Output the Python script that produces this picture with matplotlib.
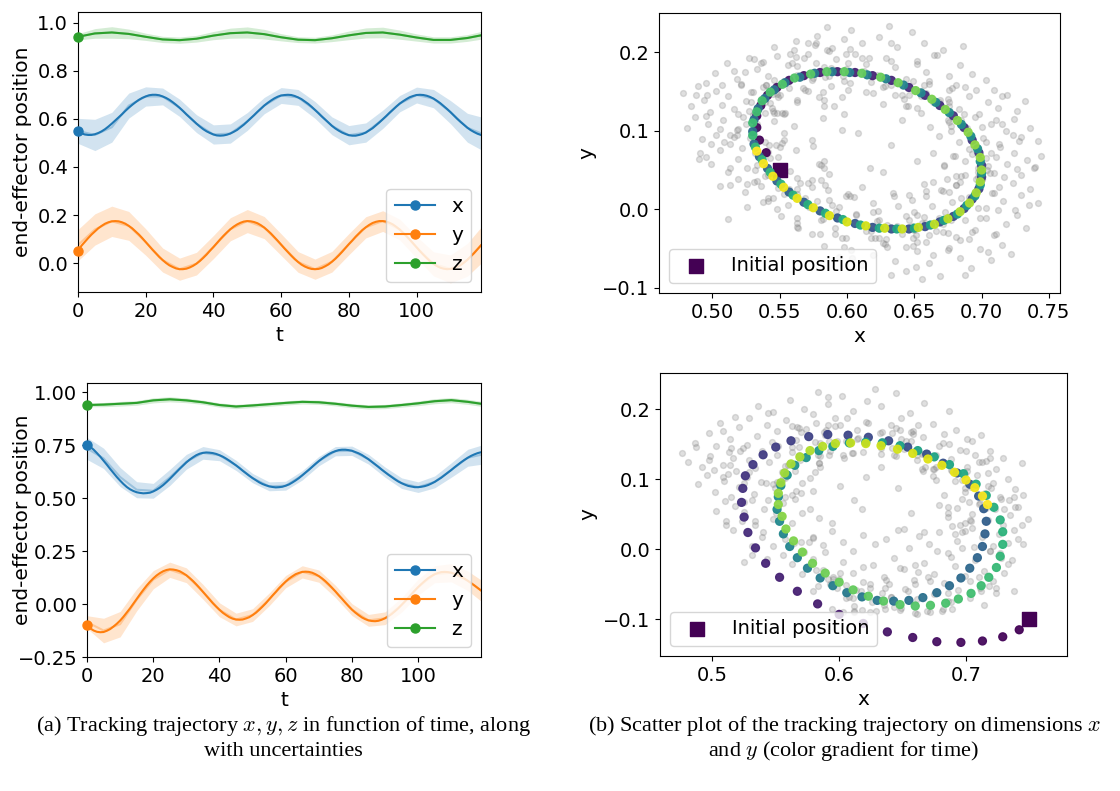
import matplotlib.pyplot as plt
import numpy as np
from matplotlib.lines import Line2D

plt.rcParams['font.family'] = 'DejaVu Sans'
plt.rcParams['mathtext.fontset'] = 'cm'
plt.rcParams['font.size'] = 14

# tracked trajectory, one value per time step (t = 0..119)
x_top = [0.550, 0.540, 0.535, 0.533, 0.533, 0.536, 0.541, 0.548, 0.557, 0.568,
         0.580, 0.593, 0.606, 0.619, 0.633, 0.646, 0.658, 0.669, 0.679, 0.687,
         0.693, 0.698, 0.700, 0.700, 0.698, 0.693, 0.687, 0.679, 0.669, 0.658,
         0.646, 0.633, 0.619, 0.606, 0.593, 0.580, 0.568, 0.557, 0.548, 0.541,
         0.535, 0.531, 0.530, 0.531, 0.534, 0.539, 0.546, 0.554, 0.565, 0.576,
         0.589, 0.602, 0.615, 0.629, 0.642, 0.655, 0.666, 0.676, 0.685, 0.692,
         0.697, 0.699, 0.700, 0.699, 0.695, 0.689, 0.682, 0.672, 0.662, 0.650,
         0.637, 0.624, 0.610, 0.597, 0.584, 0.571, 0.560, 0.551, 0.543, 0.537,
         0.532, 0.530, 0.530, 0.533, 0.537, 0.543, 0.552, 0.561, 0.573, 0.585,
         0.598, 0.611, 0.625, 0.638, 0.651, 0.663, 0.673, 0.682, 0.690, 0.695,
         0.699, 0.700, 0.699, 0.696, 0.691, 0.684, 0.675, 0.665, 0.653, 0.641,
         0.628, 0.614, 0.600, 0.587, 0.575, 0.563, 0.553, 0.545, 0.538, 0.533]
y_top = [0.050, 0.072, 0.088, 0.104, 0.119, 0.132, 0.145, 0.155, 0.164, 0.170,
         0.174, 0.175, 0.174, 0.170, 0.164, 0.155, 0.145, 0.132, 0.119, 0.104,
         0.088, 0.072, 0.056, 0.041, 0.026, 0.013, 0.001, -0.009, -0.016, -0.022,
         -0.025, -0.025, -0.023, -0.018, -0.011, -0.002, 0.009, 0.022, 0.036, 0.052,
         0.067, 0.083, 0.099, 0.114, 0.128, 0.141, 0.152, 0.161, 0.168, 0.173,
         0.175, 0.174, 0.171, 0.166, 0.158, 0.148, 0.136, 0.123, 0.108, 0.093,
         0.077, 0.061, 0.046, 0.031, 0.017, 0.005, -0.006, -0.014, -0.020, -0.024,
         -0.025, -0.024, -0.020, -0.013, -0.005, 0.006, 0.018, 0.032, 0.047, 0.063,
         0.079, 0.094, 0.110, 0.124, 0.138, 0.149, 0.159, 0.167, 0.172, 0.175,
         0.175, 0.173, 0.168, 0.161, 0.151, 0.140, 0.127, 0.113, 0.098, 0.082,
         0.066, 0.050, 0.035, 0.021, 0.008, -0.003, -0.012, -0.019, -0.023, -0.025,
         -0.024, -0.021, -0.016, -0.008, 0.002, 0.014, 0.028, 0.042, 0.058, 0.074]
x_bot = [0.750, 0.742, 0.729, 0.713, 0.696, 0.677, 0.658, 0.638, 0.619, 0.600,
         0.583, 0.567, 0.553, 0.542, 0.534, 0.528, 0.525, 0.523, 0.524, 0.526,
         0.532, 0.540, 0.550, 0.562, 0.576, 0.591, 0.607, 0.623, 0.639, 0.654,
         0.669, 0.682, 0.693, 0.703, 0.710, 0.714, 0.716, 0.715, 0.713, 0.709,
         0.703, 0.696, 0.687, 0.677, 0.666, 0.655, 0.643, 0.630, 0.618, 0.606,
         0.595, 0.585, 0.575, 0.567, 0.561, 0.556, 0.553, 0.551, 0.552, 0.554,
         0.559, 0.565, 0.574, 0.584, 0.595, 0.608, 0.621, 0.634, 0.648, 0.662,
         0.675, 0.687, 0.698, 0.708, 0.716, 0.722, 0.727, 0.729, 0.729, 0.727,
         0.724, 0.718, 0.712, 0.704, 0.694, 0.684, 0.672, 0.660, 0.648, 0.635,
         0.623, 0.611, 0.600, 0.589, 0.579, 0.571, 0.564, 0.558, 0.555, 0.552,
         0.552, 0.554, 0.557, 0.562, 0.569, 0.577, 0.587, 0.597, 0.609, 0.621,
         0.633, 0.646, 0.658, 0.670, 0.681, 0.691, 0.700, 0.707, 0.713, 0.717]
y_bot = [-0.100, -0.115, -0.125, -0.131, -0.133, -0.132, -0.126, -0.118, -0.106, -0.093,
         -0.078, -0.060, -0.040, -0.020, 0.002, 0.024, 0.046, 0.067, 0.087, 0.105,
         0.121, 0.135, 0.146, 0.155, 0.161, 0.164, 0.163, 0.160, 0.155, 0.146,
         0.136, 0.123, 0.109, 0.093, 0.076, 0.058, 0.040, 0.022, 0.004, -0.012,
         -0.027, -0.041, -0.052, -0.062, -0.069, -0.073, -0.074, -0.073, -0.068, -0.062,
         -0.052, -0.041, -0.027, -0.012, 0.004, 0.022, 0.040, 0.057, 0.075, 0.091,
         0.106, 0.120, 0.131, 0.141, 0.147, 0.152, 0.153, 0.152, 0.148, 0.141,
         0.132, 0.121, 0.108, 0.093, 0.077, 0.060, 0.042, 0.025, 0.007, -0.010,
         -0.026, -0.040, -0.052, -0.063, -0.071, -0.077, -0.080, -0.081, -0.079, -0.074,
         -0.067, -0.058, -0.047, -0.034, -0.020, -0.004, 0.012, 0.029, 0.047, 0.064,
         0.080, 0.095, 0.109, 0.122, 0.132, 0.141, 0.147, 0.151, 0.152, 0.151,
         0.148, 0.143, 0.137, 0.129, 0.120, 0.110, 0.099, 0.088, 0.076, 0.064]

# z and the uncertainty bands, read every 5 steps
t_coarse = [0, 5, 10, 15, 20, 25, 30, 35, 40, 45, 50, 55, 60, 65, 70, 75, 80, 85, 90, 95, 100, 105, 110, 115, 119]
z_top = [0.941, 0.955, 0.959, 0.953, 0.941, 0.930, 0.927, 0.933, 0.946, 0.956, 0.959, 0.952, 0.939,
         0.929, 0.927, 0.935, 0.947, 0.957, 0.959, 0.950, 0.938, 0.928, 0.928, 0.936, 0.947]
z_bot = [0.940, 0.942, 0.946, 0.950, 0.962, 0.967, 0.962, 0.953, 0.940, 0.933, 0.938, 0.944, 0.950,
         0.955, 0.953, 0.946, 0.937, 0.931, 0.933, 0.940, 0.948, 0.958, 0.963, 0.955, 0.946]

x_mean_top = [0.550, 0.533, 0.565, 0.655, 0.693, 0.693, 0.646, 0.580, 0.535, 0.539, 0.589, 0.655, 0.697,
              0.689, 0.637, 0.571, 0.532, 0.543, 0.598, 0.663, 0.699, 0.684, 0.628, 0.563, 0.540]
x_half_top = [0.052, 0.065, 0.062, 0.052, 0.040, 0.035, 0.036, 0.037, 0.040, 0.040, 0.037, 0.034, 0.033,
              0.033, 0.035, 0.037, 0.040, 0.040, 0.038, 0.034, 0.033, 0.038, 0.048, 0.060, 0.068]
y_mean_top = [0.075, 0.140, 0.174, 0.155, 0.088, 0.013, -0.025, -0.002, 0.067, 0.141, 0.175, 0.148, 0.077,
              0.005, -0.025, 0.006, 0.079, 0.149, 0.175, 0.140, 0.066, -0.003, -0.024, 0.014, 0.074]
y_half_top = [0.065, 0.065, 0.063, 0.060, 0.055, 0.050, 0.046, 0.047, 0.048, 0.048, 0.048, 0.046, 0.045,
              0.043, 0.042, 0.043, 0.044, 0.044, 0.043, 0.043, 0.045, 0.050, 0.058, 0.068, 0.075]
z_half_top = [0.013, 0.020, 0.024, 0.020, 0.015, 0.013, 0.013, 0.014, 0.017, 0.021, 0.023, 0.020, 0.015,
              0.012, 0.012, 0.014, 0.018, 0.021, 0.022, 0.019, 0.015, 0.013, 0.013, 0.014, 0.016]

x_mean_bot = [0.735, 0.688, 0.600, 0.540, 0.535, 0.598, 0.672, 0.714, 0.703, 0.655, 0.595, 0.556, 0.559,
              0.608, 0.675, 0.722, 0.724, 0.684, 0.623, 0.571, 0.552, 0.577, 0.633, 0.691, 0.705]
x_half_bot = [0.052, 0.048, 0.045, 0.038, 0.035, 0.038, 0.035, 0.030, 0.026, 0.024, 0.022, 0.021, 0.021,
              0.022, 0.022, 0.022, 0.022, 0.023, 0.024, 0.025, 0.025, 0.028, 0.034, 0.040, 0.045]
y_mean_bot = [-0.085, -0.125, -0.095, 0.020, 0.115, 0.162, 0.136, 0.058, -0.027, -0.073, -0.052, 0.022, 0.106,
              0.152, 0.132, 0.060, -0.026, -0.077, -0.067, -0.004, 0.080, 0.141, 0.148, 0.110, 0.064]
y_half_bot = [0.030, 0.058, 0.060, 0.052, 0.043, 0.036, 0.035, 0.035, 0.033, 0.030, 0.030, 0.030, 0.029,
              0.029, 0.029, 0.029, 0.028, 0.028, 0.030, 0.034, 0.038, 0.040, 0.043, 0.046, 0.050]
z_half_bot = [0.008, 0.010, 0.011, 0.011, 0.012, 0.012, 0.011, 0.010, 0.010, 0.010, 0.010, 0.010, 0.010,
              0.010, 0.010, 0.010, 0.010, 0.010, 0.010, 0.010, 0.011, 0.012, 0.012, 0.012, 0.012]

# gray sampled positions behind the trajectory (x, y)
cloud_top = [
    (0.562, 0.214), (0.578, 0.221), (0.589, 0.205), (0.603, 0.228), (0.611, 0.212), (0.624, 0.219),
    (0.637, 0.206), (0.648, 0.225), (0.657, 0.211), (0.671, 0.203), (0.585, 0.232), (0.631, 0.233),
    (0.546, 0.207), (0.686, 0.208), (0.598, 0.216),
    (0.502, 0.173), (0.511, 0.186), (0.518, 0.166), (0.527, 0.192), (0.533, 0.178), (0.541, 0.169),
    (0.548, 0.195), (0.556, 0.183), (0.563, 0.171), (0.571, 0.197), (0.577, 0.186), (0.584, 0.168),
    (0.592, 0.191), (0.599, 0.179), (0.606, 0.198), (0.614, 0.185), (0.622, 0.171), (0.629, 0.193),
    (0.636, 0.181), (0.644, 0.166), (0.652, 0.188), (0.659, 0.174), (0.667, 0.196), (0.676, 0.169),
    (0.684, 0.183), (0.693, 0.172), (0.703, 0.165), (0.524, 0.175), (0.553, 0.163), (0.587, 0.201),
    (0.618, 0.162), (0.661, 0.163), (0.538, 0.187), (0.495, 0.161),
    (0.478, 0.148), (0.484, 0.131), (0.489, 0.157), (0.494, 0.139), (0.498, 0.124), (0.503, 0.151),
    (0.507, 0.133), (0.512, 0.144), (0.516, 0.127), (0.521, 0.158), (0.525, 0.138), (0.529, 0.149),
    (0.534, 0.126), (0.538, 0.156), (0.543, 0.135), (0.548, 0.147), (0.552, 0.123), (0.557, 0.154),
    (0.563, 0.139), (0.571, 0.151), (0.579, 0.143), (0.588, 0.157), (0.601, 0.152), (0.614, 0.149),
    (0.627, 0.155), (0.641, 0.146), (0.655, 0.151), (0.668, 0.137), (0.676, 0.152), (0.683, 0.128),
    (0.691, 0.144), (0.698, 0.121), (0.705, 0.137), (0.712, 0.129), (0.719, 0.146), (0.726, 0.125),
    (0.732, 0.138), (0.507, 0.158), (0.519, 0.121), (0.496, 0.146), (0.544, 0.129), (0.688, 0.156),
    (0.709, 0.152),
    (0.481, 0.103), (0.487, 0.117), (0.492, 0.089), (0.497, 0.108), (0.503, 0.095), (0.508, 0.114),
    (0.513, 0.083), (0.518, 0.101), (0.523, 0.118), (0.528, 0.091), (0.533, 0.109), (0.539, 0.086),
    (0.546, 0.112), (0.553, 0.097), (0.561, 0.106), (0.574, 0.088), (0.596, 0.101), (0.641, 0.114),
    (0.668, 0.093), (0.676, 0.111), (0.683, 0.086), (0.689, 0.103), (0.695, 0.117), (0.701, 0.091),
    (0.707, 0.108), (0.713, 0.083), (0.718, 0.099), (0.724, 0.115), (0.729, 0.092), (0.736, 0.104),
    (0.742, 0.087), (0.506, 0.102), (0.516, 0.092), (0.711, 0.113), (0.499, 0.083),
    (0.491, 0.071), (0.499, 0.058), (0.506, 0.076), (0.512, 0.047), (0.519, 0.064), (0.526, 0.053),
    (0.532, 0.072), (0.541, 0.044), (0.549, 0.067), (0.558, 0.049), (0.583, 0.062), (0.627, 0.047),
    (0.664, 0.071), (0.672, 0.055), (0.679, 0.068), (0.685, 0.043), (0.691, 0.077), (0.697, 0.052),
    (0.703, 0.065), (0.709, 0.046), (0.714, 0.079), (0.719, 0.058), (0.724, 0.071), (0.729, 0.044),
    (0.734, 0.063), (0.739, 0.052), (0.744, 0.068), (0.717, 0.041), (0.707, 0.072), (0.688, 0.061),
    (0.513, 0.031), (0.524, 0.022), (0.533, 0.036), (0.541, 0.014), (0.549, 0.027), (0.556, 0.006),
    (0.563, 0.019), (0.571, 0.033), (0.578, 0.011), (0.586, 0.024), (0.594, 0.003), (0.602, 0.017),
    (0.611, 0.029), (0.619, 0.008), (0.634, 0.021), (0.648, 0.012), (0.657, 0.032), (0.663, 0.004),
    (0.671, 0.023), (0.678, 0.009), (0.684, 0.035), (0.691, 0.016), (0.697, 0.028), (0.703, 0.002),
    (0.709, 0.021), (0.716, 0.011), (0.723, 0.033), (0.729, 0.018), (0.736, 0.026), (0.742, 0.008),
    (0.696, 0.039), (0.674, 0.038), (0.581, 0.037),
    (0.551, -0.008), (0.563, -0.017), (0.574, -0.031), (0.582, -0.012), (0.591, -0.024), (0.599, -0.036),
    (0.607, -0.006), (0.614, -0.028), (0.622, -0.015), (0.629, -0.038), (0.637, -0.021), (0.644, -0.009),
    (0.651, -0.033), (0.658, -0.018), (0.666, -0.027), (0.673, -0.004), (0.681, -0.035), (0.688, -0.014),
    (0.695, -0.026), (0.703, -0.011), (0.711, -0.031), (0.718, -0.019), (0.726, -0.007), (0.733, -0.024),
    (0.619, -0.003), (0.641, -0.032), (0.668, -0.011), (0.691, -0.038),
    (0.583, -0.047), (0.594, -0.061), (0.603, -0.052), (0.611, -0.071), (0.619, -0.058), (0.628, -0.044),
    (0.636, -0.066), (0.644, -0.079), (0.652, -0.053), (0.661, -0.068), (0.669, -0.085), (0.676, -0.049),
    (0.684, -0.062), (0.692, -0.074), (0.699, -0.051), (0.707, -0.064), (0.715, -0.046), (0.722, -0.057),
    (0.656, -0.088), (0.633, -0.083), (0.688, -0.083),
    (0.608, 0.097), (0.633, 0.082), (0.652, 0.061), (0.617, 0.052), (0.598, 0.121), (0.655, 0.123),
    (0.587, 0.045),
    # denser part hugging the ring
    (0.526, 0.032), (0.552, 0.084), (0.529, 0.136), (0.575, 0.080), (0.545, 0.125), (0.530, 0.120),
    (0.553, 0.121), (0.590, 0.131), (0.563, 0.182), (0.574, 0.164), (0.616, 0.192), (0.611, 0.193),
    (0.558, 0.198), (0.577, 0.212), (0.657, 0.158), (0.676, 0.131), (0.646, 0.145), (0.675, 0.114),
    (0.685, 0.113), (0.681, 0.158), (0.723, 0.094), (0.688, 0.044), (0.664, 0.035), (0.680, 0.068),
    (0.699, -0.011), (0.681, 0.031), (0.661, -0.033), (0.675, -0.052), (0.676, -0.010), (0.646, -0.013),
    (0.627, -0.043), (0.649, -0.047), (0.630, -0.048), (0.563, -0.011), (0.574, 0.028), (0.538, 0.009),
    (0.563, 0.040), (0.506, 0.030), (0.541, 0.010), (0.553, 0.019), (0.531, 0.035), (0.548, 0.123),
    (0.495, 0.066), (0.540, 0.158), (0.545, 0.147), (0.516, 0.176), (0.602, 0.161), (0.583, 0.132),
    (0.576, 0.209), (0.583, 0.181), (0.602, 0.174), (0.633, 0.189), (0.659, 0.148), (0.636, 0.146),
    (0.661, 0.160), (0.678, 0.154), (0.652, 0.129), (0.715, 0.144), (0.662, 0.105), (0.697, 0.041),
    (0.706, 0.046), (0.705, 0.055), (0.713, 0.029), (0.677, -0.013), (0.670, 0.024), (0.624, -0.014),
    (0.650, -0.026), (0.656, -0.018), (0.607, -0.007), (0.624, -0.036), (0.604, -0.062), (0.621, -0.037),
    (0.548, 0.001), (0.571, 0.006), (0.596, -0.036), (0.569, 0.014), (0.513, 0.053), (0.579, 0.057),
    (0.550, 0.079), (0.518, 0.094), (0.488, 0.146), (0.539, 0.136), (0.525, 0.108), (0.549, 0.143),
    (0.546, 0.165), (0.561, 0.203), (0.585, 0.202), (0.549, 0.157), (0.550, 0.145), (0.575, 0.167),
    (0.601, 0.186), (0.644, 0.131), (0.669, 0.139), (0.633, 0.158), (0.649, 0.163), (0.664, 0.137),
    (0.672, 0.056), (0.677, 0.106), (0.681, 0.042), (0.700, 0.038), (0.699, 0.053), (0.726, 0.051),
    (0.697, 0.002), (0.684, -0.039), (0.705, -0.054), (0.671, -0.019), (0.671, -0.029), (0.599, 0.017),
    (0.598, -0.048), (0.572, 0.003), (0.618, -0.028), (0.581, -0.014), (0.581, 0.056), (0.557, 0.026),
    (0.583, 0.052), (0.539, 0.042), (0.562, 0.076), (0.533, 0.056),
    (0.532, 0.050), (0.522, 0.078), (0.553, 0.088), (0.539, 0.122), (0.527, 0.125), (0.536, 0.186),
    (0.583, 0.139), (0.530, 0.149), (0.569, 0.152), (0.562, 0.194), (0.568, 0.192), (0.587, 0.169),
    (0.588, 0.180), (0.613, 0.176), (0.633, 0.212), (0.652, 0.185), (0.628, 0.157), (0.645, 0.132),
    (0.675, 0.140), (0.693, 0.070), (0.740, 0.054), (0.694, 0.020), (0.712, -0.001), (0.704, 0.050),
    (0.693, -0.029), (0.709, -0.033), (0.657, -0.010), (0.664, -0.058), (0.652, -0.007), (0.651, -0.073),
    (0.601, 0.019), (0.564, -0.024), (0.563, -0.023), (0.580, -0.032), (0.526, 0.003), (0.605, 0.016),
    (0.512, -0.012), (0.547, 0.082), (0.541, 0.073), (0.543, 0.065), (0.554, 0.123), (0.531, 0.096),
    (0.582, 0.116), (0.521, 0.159), (0.540, 0.158), (0.578, 0.173), (0.559, 0.186), (0.582, 0.149),
    (0.571, 0.211), (0.602, 0.204), (0.591, 0.177), (0.665, 0.196), (0.642, 0.140), (0.619, 0.148),
    (0.700, 0.105), (0.715, 0.108), (0.728, 0.087), (0.697, 0.047), (0.711, 0.067), (0.676, 0.022),
    (0.681, 0.031), (0.725, -0.001), (0.659, 0.023), (0.646, 0.018), (0.630, -0.020), (0.638, 0.004),
    (0.644, -0.048), (0.649, -0.037), (0.618, -0.036), (0.592, -0.002), (0.591, -0.031), (0.584, 0.031),
    (0.589, 0.006), (0.536, 0.030), (0.563, 0.014), (0.513, 0.095), (0.519, 0.039), (0.574, 0.037),
    (0.542, 0.082), (0.536, 0.140), (0.563, 0.136), (0.519, 0.102), (0.495, 0.119), (0.546, 0.123),
    (0.531, 0.191), (0.567, 0.154), (0.597, 0.169), (0.598, 0.163), (0.599, 0.197), (0.655, 0.144),
    (0.596, 0.143), (0.687, 0.121), (0.627, 0.134), (0.703, 0.085), (0.676, 0.137), (0.696, 0.152),
    (0.677, 0.100), (0.700, 0.038), (0.735, 0.005), (0.708, 0.021), (0.685, 0.014), (0.648, -0.021),
    (0.675, -0.030), (0.635, 0.017), (0.659, -0.041), (0.659, 0.017), (0.652, -0.042), (0.650, -0.003),
    (0.570, 0.008), (0.623, -0.002), (0.545, 0.014), (0.563, 0.026), (0.565, 0.034), (0.587, 0.012),
    (0.490, 0.064), (0.509, 0.086),
]
cloud_bot = [
    (0.548, 0.196), (0.561, 0.213), (0.572, 0.201), (0.583, 0.224), (0.591, 0.208), (0.602, 0.219),
    (0.611, 0.198), (0.622, 0.212), (0.633, 0.204), (0.645, 0.223), (0.656, 0.195), (0.667, 0.209),
    (0.579, 0.193), (0.536, 0.205), (0.687, 0.198), (0.628, 0.229),
    (0.497, 0.166), (0.506, 0.181), (0.514, 0.158), (0.521, 0.174), (0.529, 0.187), (0.535, 0.162),
    (0.543, 0.178), (0.551, 0.169), (0.558, 0.185), (0.566, 0.156), (0.574, 0.172), (0.582, 0.181),
    (0.589, 0.163), (0.597, 0.176), (0.606, 0.187), (0.614, 0.171), (0.623, 0.181), (0.632, 0.166),
    (0.641, 0.178), (0.649, 0.187), (0.658, 0.169), (0.666, 0.161), (0.674, 0.179), (0.683, 0.165),
    (0.692, 0.171), (0.701, 0.158), (0.712, 0.163), (0.486, 0.152), (0.518, 0.189), (0.547, 0.153),
    (0.563, 0.176), (0.653, 0.154), (0.508, 0.169),
    (0.476, 0.138), (0.481, 0.124), (0.487, 0.146), (0.492, 0.117), (0.498, 0.133), (0.503, 0.148),
    (0.508, 0.121), (0.513, 0.139), (0.519, 0.112), (0.524, 0.144), (0.529, 0.128), (0.534, 0.116),
    (0.539, 0.141), (0.545, 0.124), (0.551, 0.135), (0.557, 0.119), (0.563, 0.146), (0.569, 0.128),
    (0.576, 0.139), (0.584, 0.123), (0.593, 0.141), (0.611, 0.137), (0.642, 0.144), (0.667, 0.136),
    (0.679, 0.148), (0.688, 0.129), (0.695, 0.142), (0.701, 0.118), (0.707, 0.134), (0.713, 0.125),
    (0.719, 0.141), (0.724, 0.114), (0.729, 0.131), (0.501, 0.113), (0.527, 0.149), (0.555, 0.111),
    (0.497, 0.127), (0.516, 0.131),
    (0.489, 0.093), (0.496, 0.106), (0.502, 0.082), (0.509, 0.098), (0.515, 0.074), (0.521, 0.089),
    (0.527, 0.103), (0.533, 0.079), (0.538, 0.096), (0.544, 0.071), (0.549, 0.088), (0.556, 0.102),
    (0.563, 0.077), (0.571, 0.094), (0.579, 0.083), (0.601, 0.091), (0.674, 0.104), (0.683, 0.078),
    (0.691, 0.097), (0.697, 0.072), (0.704, 0.089), (0.709, 0.106), (0.715, 0.081), (0.721, 0.095),
    (0.727, 0.074), (0.733, 0.101), (0.739, 0.086), (0.745, 0.078), (0.512, 0.108), (0.531, 0.071),
    (0.717, 0.109),
    (0.503, 0.055), (0.511, 0.041), (0.518, 0.062), (0.526, 0.048), (0.534, 0.035), (0.541, 0.058),
    (0.548, 0.043), (0.556, 0.066), (0.563, 0.038), (0.571, 0.052), (0.584, 0.044), (0.618, 0.058),
    (0.679, 0.063), (0.686, 0.046), (0.693, 0.059), (0.699, 0.037), (0.705, 0.051), (0.711, 0.066),
    (0.717, 0.042), (0.723, 0.057), (0.729, 0.035), (0.735, 0.049), (0.741, 0.061), (0.702, 0.068),
    (0.525, 0.067), (0.689, 0.033),
    (0.539, 0.017), (0.548, 0.004), (0.556, 0.023), (0.564, 0.009), (0.572, -0.004), (0.579, 0.018),
    (0.587, 0.006), (0.594, 0.026), (0.603, 0.011), (0.611, -0.003), (0.619, 0.021), (0.628, 0.008),
    (0.637, 0.014), (0.646, 0.027), (0.655, 0.002), (0.663, 0.019), (0.671, 0.007), (0.679, 0.024),
    (0.686, -0.006), (0.693, 0.012), (0.699, 0.026), (0.706, 0.003), (0.713, 0.017), (0.719, -0.002),
    (0.726, 0.022), (0.733, 0.009), (0.738, 0.028), (0.651, 0.029), (0.667, 0.025),
    (0.563, -0.021), (0.571, -0.036), (0.579, -0.014), (0.587, -0.029), (0.595, -0.043), (0.603, -0.018),
    (0.611, -0.034), (0.619, -0.047), (0.627, -0.022), (0.635, -0.039), (0.643, -0.013), (0.651, -0.028),
    (0.659, -0.044), (0.667, -0.019), (0.675, -0.035), (0.683, -0.048), (0.691, -0.024), (0.699, -0.038),
    (0.707, -0.016), (0.714, -0.031), (0.721, -0.045), (0.728, -0.012), (0.639, -0.049), (0.662, -0.033),
    (0.688, -0.011),
    (0.598, -0.056), (0.608, -0.068), (0.617, -0.059), (0.626, -0.076), (0.634, -0.063), (0.643, -0.082),
    (0.652, -0.057), (0.661, -0.071), (0.669, -0.088), (0.677, -0.061), (0.686, -0.074), (0.694, -0.058),
    (0.703, -0.069), (0.711, -0.055), (0.648, -0.087), (0.682, -0.086),
    (0.621, 0.103), (0.646, 0.087), (0.657, 0.052), (0.612, 0.071), (0.633, 0.118), (0.665, 0.115),
    # denser part hugging the ring
    (0.508, 0.103), (0.552, 0.147), (0.544, 0.194), (0.604, 0.131), (0.588, 0.167), (0.585, 0.152),
    (0.619, 0.139), (0.665, 0.136), (0.645, 0.173), (0.660, 0.140), (0.705, 0.154), (0.700, 0.141),
    (0.645, 0.133), (0.661, 0.135), (0.734, 0.070), (0.744, 0.034), (0.704, 0.040), (0.721, 0.004),
    (0.719, -0.002), (0.703, 0.042), (0.733, -0.021), (0.660, -0.023), (0.675, -0.064), (0.641, -0.068),
    (0.648, -0.027), (0.661, -0.092), (0.637, -0.044), (0.612, -0.090), (0.624, -0.089), (0.624, -0.050),
    (0.595, -0.040), (0.579, -0.059), (0.605, -0.051), (0.591, -0.042), (0.531, 0.004), (0.550, 0.052),
    (0.523, 0.040), (0.557, 0.075), (0.510, 0.069), (0.554, 0.049), (0.577, 0.058), (0.565, 0.072),
    (0.592, 0.155), (0.548, 0.093), (0.601, 0.177), (0.614, 0.158), (0.591, 0.177), (0.682, 0.152),
    (0.666, 0.112), (0.662, 0.177), (0.669, 0.138), (0.687, 0.121), (0.716, 0.126), (0.738, 0.075),
    (0.710, 0.065), (0.728, 0.072), (0.739, 0.060), (0.705, 0.031), (0.749, 0.043), (0.697, 0.002),
    (0.724, -0.062), (0.670, -0.040), (0.718, -0.052), (0.710, -0.039), (0.712, -0.059), (0.672, -0.090),
    (0.660, -0.050), (0.612, -0.081), (0.636, -0.085), (0.641, -0.068), (0.593, -0.049), (0.611, -0.070),
    (0.594, -0.086), (0.613, -0.058), (0.543, -0.014), (0.571, -0.004), (0.600, -0.042), (0.576, 0.011),
    (0.525, 0.053), (0.570, 0.080), (0.542, 0.095), (0.515, 0.145), (0.568, 0.134), (0.557, 0.102),
    (0.583, 0.135), (0.581, 0.153), (0.597, 0.187), (0.621, 0.182), (0.585, 0.133), (0.585, 0.118),
    (0.610, 0.137), (0.634, 0.155), (0.676, 0.099), (0.699, 0.108), (0.661, 0.128), (0.676, 0.135),
    (0.689, 0.112), (0.695, 0.034), (0.699, 0.088),
    (0.514, 0.121), (0.522, 0.141), (0.568, 0.146), (0.568, 0.173), (0.570, 0.167), (0.591, 0.218),
    (0.649, 0.157), (0.605, 0.154), (0.651, 0.143), (0.648, 0.170), (0.657, 0.154), (0.676, 0.117),
    (0.675, 0.115), (0.697, 0.099), (0.710, 0.124), (0.720, 0.088), (0.686, 0.052), (0.691, 0.022),
    (0.677, -0.002), (0.697, 0.024), (0.703, -0.045), (0.738, -0.059), (0.681, -0.088), (0.689, -0.086),
    (0.672, -0.045), (0.619, -0.025), (0.649, -0.084), (0.660, -0.091), (0.606, -0.062), (0.612, -0.088),
    (0.601, -0.034), (0.603, -0.089), (0.557, 0.015), (0.525, -0.018), (0.531, -0.008), (0.556, -0.008),
    (0.511, 0.034), (0.516, 0.027), (0.560, 0.121), (0.565, 0.112), (0.577, 0.102), (0.598, 0.155),
    (0.584, 0.123), (0.643, 0.135), (0.590, 0.170), (0.615, 0.159), (0.658, 0.164), (0.642, 0.166),
    (0.668, 0.117), (0.657, 0.168), (0.687, 0.151), (0.674, 0.114), (0.744, 0.123), (0.716, 0.059),
    (0.686, 0.060), (0.727, -0.006), (0.745, 0.007), (0.741, 0.014), (0.736, -0.016), (0.724, -0.056),
    (0.730, -0.034), (0.688, -0.076), (0.686, -0.063), (0.714, -0.080), (0.654, -0.059), (0.636, -0.056),
    (0.618, -0.087), (0.624, -0.055), (0.629, -0.088), (0.635, -0.079), (0.605, -0.070), (0.582, -0.029),
    (0.583, -0.052), (0.579, 0.016), (0.589, -0.004), (0.540, 0.024), (0.570, 0.011), (0.525, 0.095),
    (0.534, 0.040), (0.594, 0.038), (0.566, 0.083), (0.563, 0.139), (0.592, 0.134), (0.551, 0.096),
    (0.529, 0.111), (0.581, 0.111), (0.567, 0.175), (0.603, 0.134), (0.633, 0.145), (0.633, 0.136),
    (0.634, 0.167), (0.688, 0.113), (0.717, 0.090), (0.730, 0.057), (0.701, 0.112), (0.719, 0.130),
    (0.699, 0.082),
]

labels = ['x', 'y', 'z']
colors = ['C0', 'C1', 'C2']


def plot_time(ax, mains, means, halves, ylim, yticks):
    for main, mean, half, col in zip(mains, means, halves, colors):
        mean = np.array(mean)
        half = np.array(half)
        ax.fill_between(t_coarse, mean - half, mean + half, color=col, alpha=0.2, lw=0)
        ax.plot(t_coarse, mean, color=col, alpha=0.3, lw=1.5)
        t = np.arange(len(main)) if len(main) > len(t_coarse) else t_coarse
        ax.plot(t, main, color=col, lw=1.5)
        ax.plot(0, main[0], 'o', color=col, ms=6.5, clip_on=False, zorder=5)
    handles = [Line2D([0], [0], color=c, marker='o', ms=6.5) for c in colors]
    ax.legend(handles, labels, loc='lower right', fontsize=14.5)
    ax.set_xlim(0, 119)
    ax.set_ylim(*ylim)
    ax.set_yticks(yticks)
    ax.set_xticks([0, 20, 40, 60, 80, 100])
    ax.set_xlabel('t', fontsize=14.5)
    ax.set_ylabel('end-effector position', fontsize=14.5)


def plot_xy(ax, x, y, cloud, xlim, ylim, xticks):
    cloud = np.array(cloud)
    ax.scatter(cloud[:, 0], cloud[:, 1], s=18, color='gray', alpha=0.25)
    ax.scatter(x[0], y[0], marker='s', s=100, color=plt.cm.viridis(0.0), label='Initial position')
    ax.scatter(x, y, c=np.arange(len(x)), cmap='viridis', s=32, alpha=0.95)
    ax.legend(loc='lower left', fontsize=14)
    ax.set_xlim(*xlim)
    ax.set_ylim(*ylim)
    ax.set_xticks(xticks)
    ax.set_yticks([-0.1, 0.0, 0.1, 0.2])
    ax.set_xlabel('x', fontsize=14.5)
    ax.set_ylabel('y', fontsize=14.5)


def main():
    fig = plt.figure(figsize=(11.2, 7.91), dpi=100)
    ax1 = fig.add_axes([0.0696, 0.6308, 0.3598, 0.354])
    ax2 = fig.add_axes([0.5884, 0.6296, 0.358, 0.354])
    ax3 = fig.add_axes([0.0777, 0.1694, 0.3518, 0.3464])
    ax4 = fig.add_axes([0.5893, 0.1707, 0.3634, 0.3578])

    plot_time(ax1, [x_top, y_top, z_top], [x_mean_top, y_mean_top, z_top],
              [x_half_top, y_half_top, z_half_top], (-0.12, 1.044), [0.0, 0.2, 0.4, 0.6, 0.8, 1.0])
    plot_time(ax3, [x_bot, y_bot, z_bot], [x_mean_bot, y_mean_bot, z_bot],
              [x_half_bot, y_half_bot, z_half_bot], (-0.25, 1.044), [-0.25, 0.0, 0.25, 0.5, 0.75, 1.0])
    ax3.set_yticklabels(['\u22120.25', '0.00', '0.25', '0.50', '0.75', '1.00'])
    ax1.yaxis.set_label_coords(-0.114, 0.5)
    ax3.yaxis.set_label_coords(-0.140, 0.5)

    plot_xy(ax2, x_top, y_top, cloud_top, (0.4604, 0.7582), (-0.1064, 0.2497),
            [0.50, 0.55, 0.60, 0.65, 0.70, 0.75])
    plot_xy(ax4, x_bot, y_bot, cloud_bot, (0.4587, 0.7797), (-0.1524, 0.2519), [0.5, 0.6, 0.7])

    cap = dict(ha='center', va='center', fontsize=16, family='Liberation Serif')
    fig.text(283 / 1120, 1 - 726 / 791, '(a) Tracking trajectory $x, y, z$ in function of time, along', **cap)
    fig.text(283 / 1120, 1 - 751 / 791, 'with uncertainties', **cap)
    fig.text(845 / 1120, 1 - 726 / 791, '(b) Scatter plot of the tracking trajectory on dimensions $x$', **cap)
    fig.text(843 / 1120, 1 - 751 / 791, 'and $y$ (color gradient for time)', **cap)

    fig.savefig('out.png', dpi=100)


if __name__ == '__main__':
    main()
